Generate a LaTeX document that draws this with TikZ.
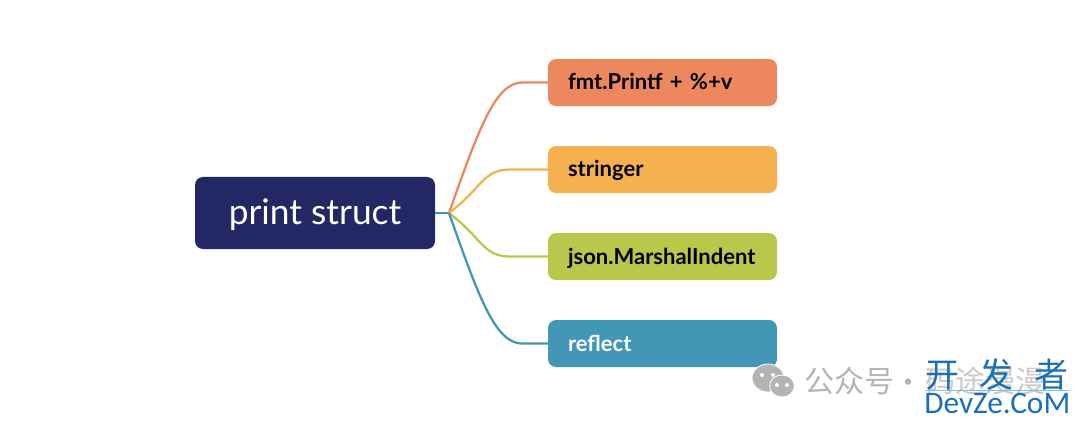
\documentclass[tikz,border=0pt]{standalone}
\usepackage{fontspec}
\setmainfont{Lato}
\newfontfamily\cjkfont{Noto Sans CJK SC}
\newfontfamily\devfont{Carlito}
\usepackage{tikz}
\usetikzlibrary{positioning,calc,shapes.geometric}
\definecolor{rootblue}{HTML}{232864}
\definecolor{fmtorange}{HTML}{EC875E}
\definecolor{stryellow}{HTML}{F5B14F}
\definecolor{jsongreen}{HTML}{B9C84A}
\definecolor{reflblue}{HTML}{4397B6}
\definecolor{markgrey}{HTML}{B4B4B4}
\definecolor{devblue}{HTML}{1A6FB8}
\definecolor{devrule}{HTML}{7CC4EE}
\begin{document}
\begin{tikzpicture}[
    x=0.75pt,y=0.75pt,
    rootbox/.style={
       fill=rootblue,
       rounded corners=6pt,
       text=white,
       outer sep=0pt,
       minimum width=180pt,
       minimum height=54pt,
       inner sep=0pt,
       text height=18pt,
       text depth=0pt,
       font=\fontsize{26.5}{30}\selectfont},
    branchbox/.style={
       rounded corners=6pt,
       outer sep=0pt,
       text width=141.75pt,
       align=left,
       inner xsep=15pt,
       inner ysep=0pt,
       minimum height=35.25pt,
       text height=11.2pt,
       text depth=0pt,
       font=\fontsize{16.5}{18}\selectfont\bfseries},
    branchline/.style={line width=1.7pt},
    marktext/.style={inner sep=0pt,text=markgrey,font=\cjkfont\fontsize{22.5}{26}\selectfont},
    bubble/.style={ellipse,fill=markgrey,draw=white,line width=0.6pt,inner sep=0pt},
    eye/.style={circle,fill=white,inner sep=0pt,minimum size=3pt},
    node distance=30pt and 84.75pt
    ]
    \useasboundingbox (0,0) rectangle (1080,425);
    \node[rootbox] (root) at (315,212) {print struct};
    \coordinate[right=10.5pt of root] (hub);
    \node[branchbox,fill=stryellow,right=84.75pt of root,yshift=32.6pt] (stringer) {stringer};
    \node[branchbox,fill=fmtorange,above=of stringer] (fmt) {fmt.Printf + \%+v};
    \node[branchbox,fill=jsongreen,below=of stringer] (json) {json.MarshalIndent};
    \node[branchbox,fill=reflblue,text=white,below=of json] (reflect) {reflect};

  \draw [branchline,reflblue] (root) -- (hub);
  \foreach \j/\clr/\dx/\dy/\ex in {% end node/colour/first control/length of straight end
    fmt/fmtorange/29/82/26,
    stringer/stryellow/33/25/38,
    json/jsongreen/33/-25/38,
    reflect/reflblue/29/-82/26}
     \draw [branchline,\clr] (hub) .. controls +(\dx,\dy) and +(-27,0) .. ($(\j.west)+(-\ex,0)$) -- (\j);

   % watermark in the lower right corner
   \node[bubble,minimum width=24pt,minimum height=21pt] (big) at (768,47) {};
   \node[bubble,minimum width=18.5pt,minimum height=16.5pt] (small) at (782,39) {};
   \node[eye] (e1) at (762,50) {};
   \node[eye] (e2) at (773,50) {};
   \node[eye] (e3) at (777,40) {};
   \node[eye] (e4) at (787,40) {};
   \node[marktext,anchor=west] (mp) at (804,44) {公众号};
   \node[marktext,anchor=center] (dot) at (908,39) {·};
   \node[marktext,anchor=west,opacity=0.7] (name) at (925,44) {码途漫漫};
   \node[inner sep=0pt,anchor=west,text=devblue,font=\cjkfont\fontsize{25.5}{30}\selectfont] (dev) at (925,50) {开\hspace{15.5pt}发\hspace{15.5pt}者};
   \coordinate (r1) at (925,35);
   \coordinate (r2) at (1070,35);
   \draw [devrule,line width=0.6pt] (r1) -- (r2);
   \node[inner sep=0pt,anchor=west,text=devblue,font=\devfont\fontsize{23.5}{28}\selectfont] (site) at (924,22) {DevZe.CoM};
  \end{tikzpicture}
\end{document}
